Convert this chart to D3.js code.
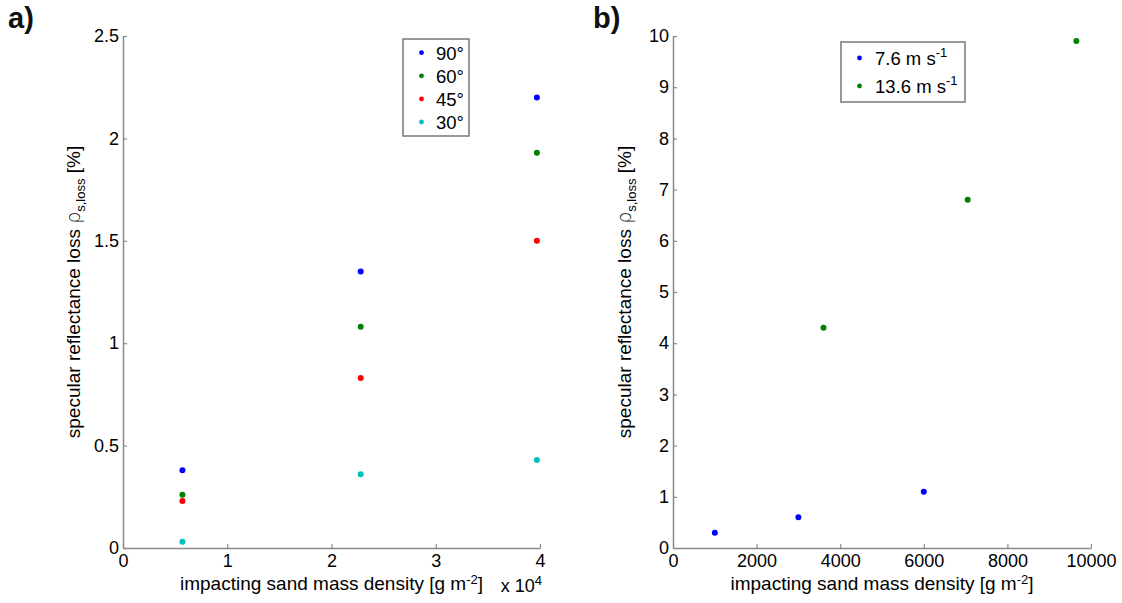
<!DOCTYPE html>
<html>
<head>
<meta charset="utf-8">
<script src="https://cdn.jsdelivr.net/npm/d3@7"></script>
<style>
  body { margin: 0; background: #fff; }
  svg { display: block; }
  text { font-family: "Liberation Sans", Arial, sans-serif; }
</style>
</head>
<body>
<svg id="fig" width="1122" height="603"></svg>
<script>
// ---- Panel a: reflectance loss vs. impacting sand mass, four impact angles ----
const angleNames = ["90°", "60°", "45°", "30°"];
const angleColors = ["#0000ff", "#008000", "#ff0000", "#00bfbf"];
const massA = [5700, 22800, 39700];
const loss90 = [0.38, 1.35, 2.20];
const loss60 = [0.26, 1.08, 1.93];
const loss45 = [0.23, 0.83, 1.50];
const loss30 = [0.03, 0.36, 0.43];
const xTicksA = [0, 10000, 20000, 30000, 40000];
const yTicksA = [0, 0.5, 1, 1.5, 2, 2.5];

// ---- Panel b: reflectance loss vs. impacting sand mass, two wind speeds ----
const speedNames = ["7.6", "13.6"];
const speedColors = ["#0000ff", "#008000"];
const massSlow = [1000, 3000, 6000];
const lossSlow = [0.3, 0.6, 1.1];
const massFast = [3600, 7050, 9650];
const lossFast = [4.3, 6.8, 9.9];
const xTicksB = [0, 2000, 4000, 6000, 8000, 10000];
const yTicksB = [0, 1, 2, 3, 4, 5, 6, 7, 8, 9, 10];

const svg = d3.select("#fig");
const TICK_FS = 18;
const TITLE_FS = 19;
const LEGEND_FS = 18.5;
const axisGrey = "#8a8a8a";

function styleAxis(g) {
  g.selectAll(".domain").attr("stroke", axisGrey).attr("stroke-width", 1.5);
  g.selectAll(".tick line").attr("stroke", axisGrey).attr("stroke-width", 1.2);
  g.selectAll(".tick text").attr("fill", "#000").attr("font-size", TICK_FS)
    .attr("font-family", '"Liberation Sans", Arial, sans-serif');
  g.attr("font-family", null).attr("font-size", null);
}

function drawPanel(p) {
  const x = d3.scaleLinear().domain(p.xDomain).range([p.left, p.right]);
  const y = d3.scaleLinear().domain(p.yDomain).range([p.bottom, p.top]);

  const gx = svg.append("g").attr("transform", `translate(0,${p.bottom})`)
    .call(d3.axisBottom(x).tickValues(p.xTicks).tickFormat(p.xFormat)
      .tickSizeInner(-4).tickSizeOuter(0).tickPadding(6));
  styleAxis(gx);

  const gy = svg.append("g").attr("transform", `translate(${p.left},0)`)
    .call(d3.axisLeft(y).tickValues(p.yTicks).tickFormat(d => String(d))
      .tickSizeInner(-4).tickSizeOuter(0).tickPadding(4));
  styleAxis(gy);

  // scatter points
  p.series.forEach(s => {
    svg.append("g").selectAll("circle")
      .data(s.xs.map((v, i) => [v, s.ys[i]]))
      .join("circle")
      .attr("cx", d => x(d[0]))
      .attr("cy", d => y(d[1]))
      .attr("r", 3)
      .attr("fill", s.color);
  });

  // x-axis title with superscript
  const xt = svg.append("text")
    .attr("x", (p.left + p.right) / 2).attr("y", p.xTitleY)
    .attr("text-anchor", "middle").attr("font-size", TITLE_FS).attr("fill", "#000");
  xt.append("tspan").text("impacting sand mass density [g m");
  xt.append("tspan").attr("dy", -6.5).attr("font-size", 13).text("-2");
  xt.append("tspan").attr("dy", 6.5).text("]");

  // y-axis title with subscript
  const yt = svg.append("text")
    .attr("transform", `translate(${p.yTitleX},${(p.top + p.bottom) / 2}) rotate(-90)`)
    .attr("text-anchor", "middle").attr("font-size", TITLE_FS).attr("fill", "#000");
  yt.append("tspan").text("specular reflectance loss ");
  yt.append("tspan").attr("font-family", "DejaVu Sans").attr("font-weight", 200).text("ρ");
  yt.append("tspan").attr("dy", 5).attr("font-size", 13).text("s,loss");
  yt.append("tspan").attr("dy", -5).text(" [%]");

  // panel letter
  svg.append("text").attr("x", p.letterX).attr("y", 28)
    .attr("font-size", 29).attr("font-weight", "bold").attr("fill", "#111")
    .text(p.letter);

  return { x, y };
}

// Panel a
const pa = drawPanel({
  left: 123, right: 540, top: 36, bottom: 548,
  xDomain: [0, 40000], yDomain: [0, 2.5],
  xTicks: xTicksA, yTicks: yTicksA, xFormat: d => String(d / 1e4),
  xTitleY: 590, yTitleX: 80, letter: "a)", letterX: 8,
  series: [
    { xs: massA, ys: loss90, color: angleColors[0] },
    { xs: massA, ys: loss60, color: angleColors[1] },
    { xs: massA, ys: loss45, color: angleColors[2] },
    { xs: massA, ys: loss30, color: angleColors[3] }
  ]
});

// exponent label for panel a x-axis
const expo = svg.append("text").attr("x", pa.x(40000) + 2).attr("y", 592)
  .attr("text-anchor", "end").attr("font-size", TICK_FS).attr("fill", "#000");
expo.append("tspan").text("x 10");
expo.append("tspan").attr("dy", -7).attr("font-size", 13).text("4");

// legend a
svg.append("rect").attr("x", 403).attr("y", 39).attr("width", 66).attr("height", 97)
  .attr("fill", "#fff").attr("stroke", "#777").attr("stroke-width", 1.5);
angleNames.forEach((name, i) => {
  const cy = 52.7 + i * 23.1;
  svg.append("circle").attr("cx", 421.5).attr("cy", cy).attr("r", 2.4).attr("fill", angleColors[i]);
  svg.append("text").attr("x", 436).attr("y", cy + 6.8)
    .attr("font-size", LEGEND_FS).attr("fill", "#000").text(name);
});

// Panel b
drawPanel({
  left: 673, right: 1091, top: 36, bottom: 548,
  xDomain: [0, 10000], yDomain: [0, 10],
  xTicks: xTicksB, yTicks: yTicksB, xFormat: d => String(d),
  xTitleY: 590, yTitleX: 631, letter: "b)", letterX: 593,
  series: [
    { xs: massSlow, ys: lossSlow, color: speedColors[0] },
    { xs: massFast, ys: lossFast, color: speedColors[1] }
  ]
});

// legend b
svg.append("rect").attr("x", 841).attr("y", 42).attr("width", 124).attr("height", 60)
  .attr("fill", "#fff").attr("stroke", "#777").attr("stroke-width", 1.5);
speedNames.forEach((name, i) => {
  const cy = 58 + i * 28;
  svg.append("circle").attr("cx", 859.5).attr("cy", cy).attr("r", 2.4).attr("fill", speedColors[i]);
  const t = svg.append("text").attr("x", 875).attr("y", cy + 6.8)
    .attr("font-size", LEGEND_FS).attr("fill", "#000");
  t.append("tspan").text(name + " m s");
  t.append("tspan").attr("dy", -8).attr("font-size", 13).text("-1");
});
</script>
</body>
</html>
